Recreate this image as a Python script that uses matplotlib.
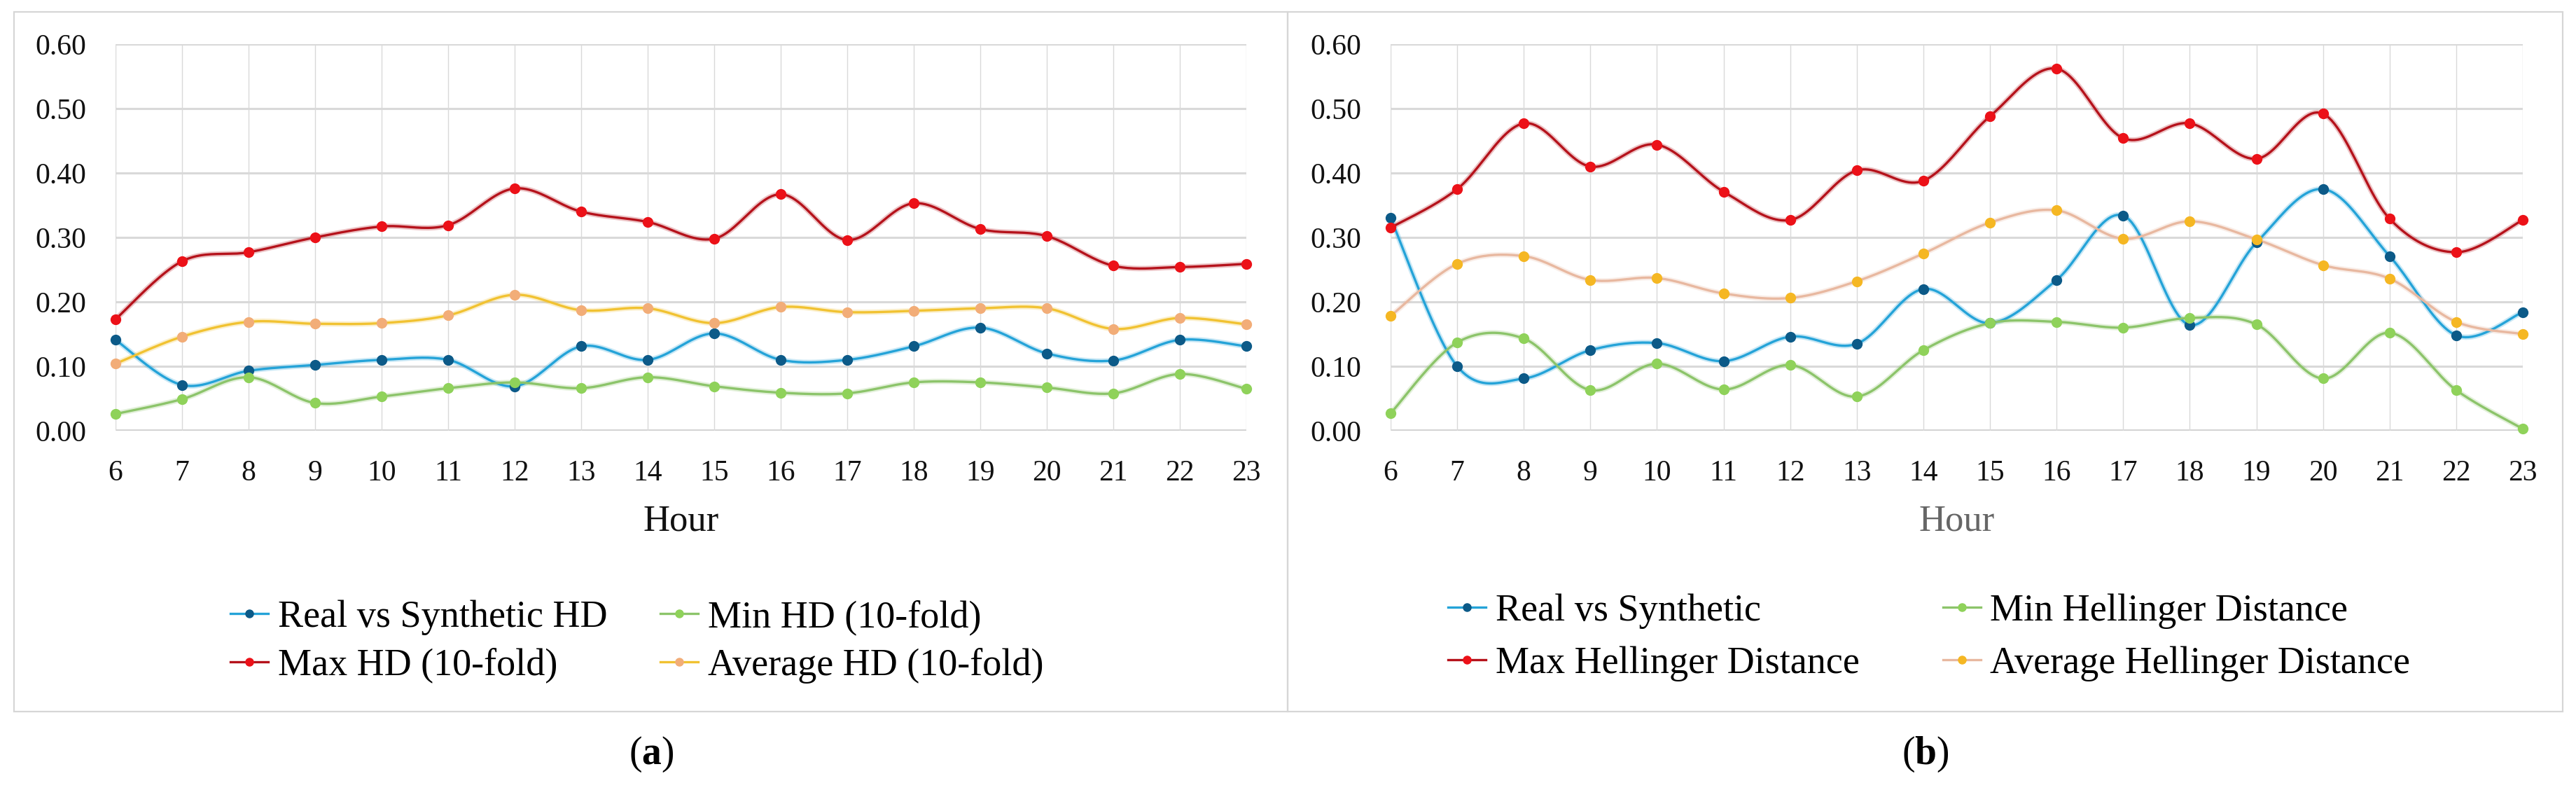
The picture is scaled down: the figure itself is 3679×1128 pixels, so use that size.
import numpy as np
import matplotlib

matplotlib.use("Agg")
import matplotlib.pyplot as plt
from matplotlib.lines import Line2D
from matplotlib.patches import Rectangle

plt.rcParams["font.family"] = ["Liberation Serif", "DejaVu Serif"]
plt.rcParams["mathtext.fontset"] = "custom"
plt.rcParams["mathtext.rm"] = "Liberation Serif"
plt.rcParams["mathtext.bf"] = "Liberation Serif:bold"

# -----------------------------------------------------------------------------
# Daten
# -----------------------------------------------------------------------------
HOURS = list(range(6, 24))

# (a) 10-fold
A_REAL = [0.141, 0.071, 0.093, 0.102, 0.110, 0.110, 0.069, 0.131, 0.110,
          0.151, 0.110, 0.110, 0.131, 0.160, 0.120, 0.109, 0.141, 0.131]
A_MIN = [0.026, 0.049, 0.083, 0.043, 0.053, 0.066, 0.075, 0.066, 0.083,
         0.069, 0.059, 0.058, 0.075, 0.075, 0.067, 0.058, 0.088, 0.065]
A_MAX = [0.173, 0.263, 0.277, 0.300, 0.317, 0.319, 0.376, 0.340, 0.324,
         0.298, 0.367, 0.296, 0.353, 0.313, 0.302, 0.256, 0.254, 0.259]
A_AVG = [0.104, 0.146, 0.169, 0.166, 0.167, 0.179, 0.211, 0.187, 0.190,
         0.167, 0.192, 0.184, 0.186, 0.190, 0.190, 0.158, 0.175, 0.165]
A_LABELS = ["Real vs Synthetic HD", "Max HD (10-fold)",
            "Min HD (10-fold)", "Average HD (10-fold)"]

# (b) Hellinger
B_REAL = [0.330, 0.100, 0.081, 0.125, 0.136, 0.108, 0.146, 0.135, 0.220,
          0.167, 0.234, 0.334, 0.164, 0.292, 0.375, 0.271, 0.148, 0.184]
B_MIN = [0.027, 0.137, 0.143, 0.063, 0.104, 0.064, 0.102, 0.053, 0.125,
         0.167, 0.169, 0.160, 0.175, 0.165, 0.081, 0.152, 0.063, 0.003]
B_MAX = [0.315, 0.375, 0.477, 0.410, 0.444, 0.371, 0.327, 0.404, 0.388,
         0.488, 0.562, 0.454, 0.477, 0.422, 0.492, 0.329, 0.277, 0.327]
B_AVG = [0.178, 0.259, 0.271, 0.234, 0.237, 0.213, 0.206, 0.232, 0.275,
         0.323, 0.342, 0.298, 0.325, 0.297, 0.257, 0.236, 0.169, 0.150]
B_LABELS = ["Real vs Synthetic", "Max Hellinger Distance",
            "Min Hellinger Distance", "Average Hellinger Distance"]

Y_TICKS = [0.0, 0.1, 0.2, 0.3, 0.4, 0.5, 0.6]

# Farben: (Linie, Marker)
C_BLUE = ("#24a3d8", "#0c5a88")
C_RED = ("#b5121b", "#ec1118")
C_GREEN = ("#8cc46a", "#8fd25a")
C_YELLOW = ("#f1c231", "#f2ad78")
C_PEACH = ("#e8b8a0", "#f5b723")
GRID = "#d9d9d9"

W, H = 3679, 1128


def smooth(x, y, n=24):
    """Excel-artige Glaettung: kubische Bezier mit Catmull-Rom-Kontrollpunkten."""
    x = np.asarray(x, float)
    y = np.asarray(y, float)
    px = np.r_[x[0], x, x[-1]]
    py = np.r_[y[0], y, y[-1]]
    t = np.linspace(0, 1, n)
    xs, ys = [], []
    for i in range(len(x) - 1):
        j = i + 1
        p0 = np.array([px[j], py[j]])
        p3 = np.array([px[j + 1], py[j + 1]])
        p1 = p0 + (np.array([px[j + 1], py[j + 1]]) - np.array([px[j - 1], py[j - 1]])) / 6
        p2 = p3 - (np.array([px[j + 2], py[j + 2]]) - np.array([px[j], py[j]])) / 6
        b = ((1 - t) ** 3)[:, None] * p0 + (3 * (1 - t) ** 2 * t)[:, None] * p1 \
            + (3 * (1 - t) * t ** 2)[:, None] * p2 + (t ** 3)[:, None] * p3
        xs.append(b[:, 0])
        ys.append(b[:, 1])
    return np.concatenate(xs), np.concatenate(ys)


def draw_panel(ax, series, xlabel_color):
    for vals, (lc, mc) in series:
        sx, sy = smooth(HOURS, vals)
        ax.plot(sx, sy, color=lc, lw=5.5, alpha=0.25, solid_capstyle="round",
                clip_on=False, zorder=2)
        ax.plot(sx, sy, color=lc, lw=2.4, clip_on=False, zorder=3)
        ax.plot(HOURS, vals, "o", ms=10, color=mc, mec=mc, clip_on=False, zorder=4)

    ax.set_xlim(6, 23)
    ax.set_ylim(0, 0.6)
    ax.set_xticks(HOURS)
    ax.set_yticks(Y_TICKS)
    ax.set_yticklabels([f"{v:.2f}" for v in Y_TICKS])
    for s in ax.spines.values():
        s.set_visible(False)
    ax.tick_params(length=0, labelsize=30, colors="#111111")
    ax.tick_params(axis="y", pad=30)
    ax.tick_params(axis="x", pad=30)
    for v in Y_TICKS[1:]:
        ax.axhline(v, color=GRID, lw=2.2, zorder=1)
    ax.axhline(0, color="#cfcfcf", lw=2.6, zorder=1)
    for h in HOURS:
        ax.axvline(h, color=GRID, lw=1.0, zorder=1)
    ax.set_xlabel("Hour", fontsize=38, color=xlabel_color, labelpad=18)


fig = plt.figure(figsize=(W / 100, H / 100), dpi=100)
fig.patch.set_facecolor("white")

# Rahmen der beiden Panels
for x0, x1 in [(20, 1839), (1839, 3660)]:
    fig.add_artist(Rectangle((x0 / W, 1 - 1016 / H), (x1 - x0) / W, (1016 - 17) / H,
                             transform=fig.transFigure, fill=False,
                             edgecolor="#d6d6d6", lw=1.6))

ax_a = fig.add_axes([165 / W, 1 - 615 / H, (1780 - 165) / W, (615 - 63) / H])
ax_b = fig.add_axes([1986 / W, 1 - 615 / H, (3603 - 1986) / W, (615 - 63) / H])

draw_panel(ax_a, [(A_REAL, C_BLUE), (A_MIN, C_GREEN), (A_MAX, C_RED), (A_AVG, C_YELLOW)],
           "#111111")
draw_panel(ax_b, [(B_REAL, C_BLUE), (B_MIN, C_GREEN), (B_MAX, C_RED), (B_AVG, C_PEACH)],
           "#666666")


def handle(c):
    return Line2D([], [], color=c[0], lw=2.4, marker="o", ms=8, mfc=c[1], mec=c[1])


leg_kw = dict(ncol=2, frameon=False, fontsize=39, loc="center left",
              bbox_transform=fig.transFigure, borderpad=0, borderaxespad=0,
              handlelength=1.0, handletextpad=0.25)

ax_a.legend([handle(C_BLUE), handle(C_RED), handle(C_GREEN), handle(C_YELLOW)],
            A_LABELS, bbox_to_anchor=(329 / W, 1 - 916 / H),
            columnspacing=1.4, labelspacing=0.33, **leg_kw)
ax_b.legend([handle(C_BLUE), handle(C_RED), handle(C_GREEN), handle(C_PEACH)],
            B_LABELS, bbox_to_anchor=(2068 / W, 1 - 910 / H),
            columnspacing=2.2, labelspacing=0.46, **leg_kw)

fig.text(930 / W, 1 - 1077 / H, r"($\mathbf{a}$)", fontsize=40, ha="center", va="center")
fig.text(2750 / W, 1 - 1077 / H, r"($\mathbf{b}$)", fontsize=40, ha="center", va="center")

fig.savefig("out.png", dpi=100, facecolor="white")
